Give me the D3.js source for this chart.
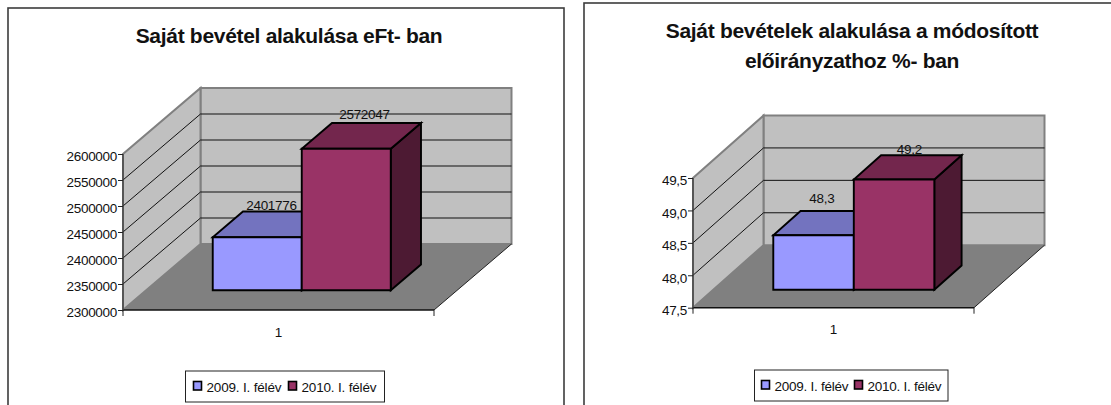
<!DOCTYPE html>
<html><head><meta charset="utf-8">
<script src="https://cdn.jsdelivr.net/npm/d3@7/dist/d3.min.js"></script>
<style>
html,body{margin:0;padding:0;background:#fff;overflow:hidden}
svg{display:block}
text{font-family:"Liberation Sans",Arial,sans-serif;fill:#111}
</style></head><body>
<svg id="c" width="1111" height="405"></svg>
<script>
const categories = ["1"];
const seriesNames = ["2009. I. félév", "2010. I. félév"];
const seriesColors = ["#9999ff", "#993366"];
const topColors = ["#7373bf", "#73264d"];
const sideColors = ["#4d4d80", "#4d1a33"];

const titleA = ["Saját bevétel alakulása eFt- ban"];
const valuesA = [2401776, 2572047];
const domainA = [2300000, 2600000];
const ticksA = [2300000, 2350000, 2400000, 2450000, 2500000, 2550000, 2600000];

const titleB = ["Saját bevételek alakulása a módosított", "előirányzathoz %- ban"];
const valuesB = [48.34, 49.2];
const domainB = [47.5, 49.5];
const ticksB = [47.5, 48, 48.5, 49, 49.5];

const svg = d3.select("#c");
const huComma = d3.formatLocale({decimal:",",thousands:" ",grouping:[3],currency:["",""]});

function draw(o){
  const g = svg.append("g");
  g.append("rect").attr("x",o.frame[0]).attr("y",o.frame[1]).attr("width",o.frame[2]).attr("height",o.frame[3])
    .attr("fill","#fff").attr("stroke","#3c3c3c").attr("stroke-width",1.6);

  const y = d3.scaleLinear().domain(o.domain).range([o.y0,o.y1]);
  const xb = d3.scaleBand().domain(o.series.map((_,i)=>i)).range([o.x0,o.x1]).paddingInner(0).paddingOuter(o.outer);
  const xc = d3.scaleBand().domain(categories).range([o.x0,o.x1]);
  const P = (x,v,d)=>[x+d*o.dx, y(v)-d*o.dy];
  const line = d3.line();
  const [lo,hi] = o.domain;
  const poly = (pts,fill,stroke,sw)=>g.append("path").attr("d",line(pts)+"Z").attr("fill",fill)
      .attr("stroke",stroke).attr("stroke-width",sw).attr("stroke-linejoin","miter");

  // walls and floor
  poly([P(o.x0,lo,1),P(o.x1,lo,1),P(o.x1,hi,1),P(o.x0,hi,1)],"#c0c0c0","#808080",2);
  poly([P(o.x0,lo,0),P(o.x0,lo,1),P(o.x0,hi,1),P(o.x0,hi,0)],"#c0c0c0","#808080",2);
  poly([P(o.x0,lo,0),P(o.x1,lo,0),P(o.x1,lo,1),P(o.x0,lo,1)],"#808080","none",0);

  // gridlines on walls
  o.ticks.slice(1,-1).forEach(t=>{
    g.append("path").attr("d",line([P(o.x0,t,0),P(o.x0,t,1),P(o.x1,t,1)])).attr("fill","none").attr("stroke","#111").attr("stroke-width",1);
  });
  g.append("path").attr("d",line([P(o.x1,lo,1),P(o.x1,lo,0)])).attr("fill","none").attr("stroke","#222").attr("stroke-width",1);
  g.append("path").attr("d",line([P(o.x0,lo,0),P(o.x1,lo,0)])).attr("fill","none").attr("stroke","#111").attr("stroke-width",1.4);
  g.append("path").attr("d",line([P(o.x0,hi,0),P(o.x0,lo,0)])).attr("fill","none").attr("stroke","#444").attr("stroke-width",1.4);

  // axes through d3
  const ay = g.append("g").attr("transform",`translate(${o.x0},0)`)
    .call(d3.axisLeft(y).tickValues(o.ticks).tickSize(5).tickPadding(1).tickFormat(o.fmt));
  ay.select(".domain").remove();
  ay.selectAll("line").attr("stroke","#222");
  ay.attr("font-family",null).attr("font-size",null);
  ay.selectAll("text").attr("font-size",o.tickFont).attr("letter-spacing",o.tickLs).attr("fill","#111").attr("y",2.5);
  const ax = g.append("g").attr("transform",`translate(0,${o.y0})`)
    .call(d3.axisBottom(xc).tickSize(0).tickPadding(17));
  ax.select(".domain").remove();
  ax.attr("font-family",null).attr("font-size",null);
  ax.selectAll("text").attr("font-size",o.tickFont).attr("fill","#111");
  [o.x0,o.x1].forEach(x=>g.append("line").attr("x1",x).attr("x2",x).attr("y1",o.y0).attr("y2",o.y0+6).attr("stroke","#222"));

  // bars
  o.values.forEach((v,i)=>{
    const a=xb(i), b=a+xb.bandwidth();
    poly([P(b,lo,o.d0),P(b,lo,o.d1),P(b,v,o.d1),P(b,v,o.d0)],sideColors[i],"#000",1.9);
    poly([P(a,v,o.d0),P(b,v,o.d0),P(b,v,o.d1),P(a,v,o.d1)],topColors[i],"#000",1.9);
    poly([P(a,lo,o.d0),P(b,lo,o.d0),P(b,v,o.d0),P(a,v,o.d0)],seriesColors[i],"#000",1.9);
  });
  // data labels
  o.values.forEach((v,i)=>{
    const c=xb(i)+xb.bandwidth()/2, p=P(c,v,o.d1);
    g.append("text").attr("x",p[0]+o.labelDx[i]).attr("y",p[1]-o.labelDy[i]).attr("text-anchor","middle")
      .attr("font-size",o.tickFont).attr("letter-spacing",o.tickLs).text(o.fmt(v));
  });

  // title
  o.title.forEach((t,i)=>g.append("text").attr("x",o.titleX).attr("y",o.titleY+i*o.titleLead)
    .attr("text-anchor","middle").attr("font-size",o.titleFont).attr("font-weight","bold")
    .attr("letter-spacing",o.titleLs).attr("fill","#000").text(t));

  // legend
  const [lx,ly,lw,lh]=o.legend;
  g.append("rect").attr("x",lx).attr("y",ly).attr("width",lw).attr("height",lh).attr("fill","#fff").attr("stroke","#222").attr("stroke-width",1);
  o.series.forEach((s,i)=>{
    const sx=o.legendX[i];
    g.append("rect").attr("x",sx).attr("y",ly+10.5).attr("width",8).attr("height",8.5).attr("fill",seriesColors[i]).attr("stroke","#000").attr("stroke-width",1.6);
    g.append("text").attr("x",sx+13).attr("y",ly+20.5).attr("font-size",o.tickFont)
      .attr("textLength",o.legendTextW).attr("lengthAdjust","spacing").text(s);
  });
}

draw({frame:[8,8,556,420],domain:domainA,ticks:ticksA,values:valuesA,series:seriesNames,title:titleA,
  fmt:d3.format("d"),x0:123,x1:434,y0:310,y1:154,dx:77.5,dy:66,d0:0.3,d1:0.69,outer:0.747,
  tickFont:13.5,tickLs:-0.3,legendTextW:75,labelDx:[-16,-12],labelDy:[2,4],
  titleX:289,titleY:43,titleFont:21,titleLs:-0.3,titleLead:0,
  legend:[185.5,371,199,31],legendX:[193.5,288.5]});

draw({frame:[584,3,560,420],domain:domainB,ticks:ticksB,values:valuesB,series:seriesNames,title:titleB,
  fmt:d=>huComma.format(".1f")(d),x0:693,x1:974,y0:307.7,y1:178,dx:70.5,dy:62.5,d0:0.288,d1:0.675,outer:0.745,
  tickFont:13.5,tickLs:-0.3,legendTextW:74,labelDx:[-19,-12],labelDy:[8,1],
  titleX:852,titleY:38,titleFont:21,titleLs:-0.3,titleLead:30,
  legend:[754.5,370,193.5,31],legendX:[761.5,854.5]});
</script>
</body></html>
